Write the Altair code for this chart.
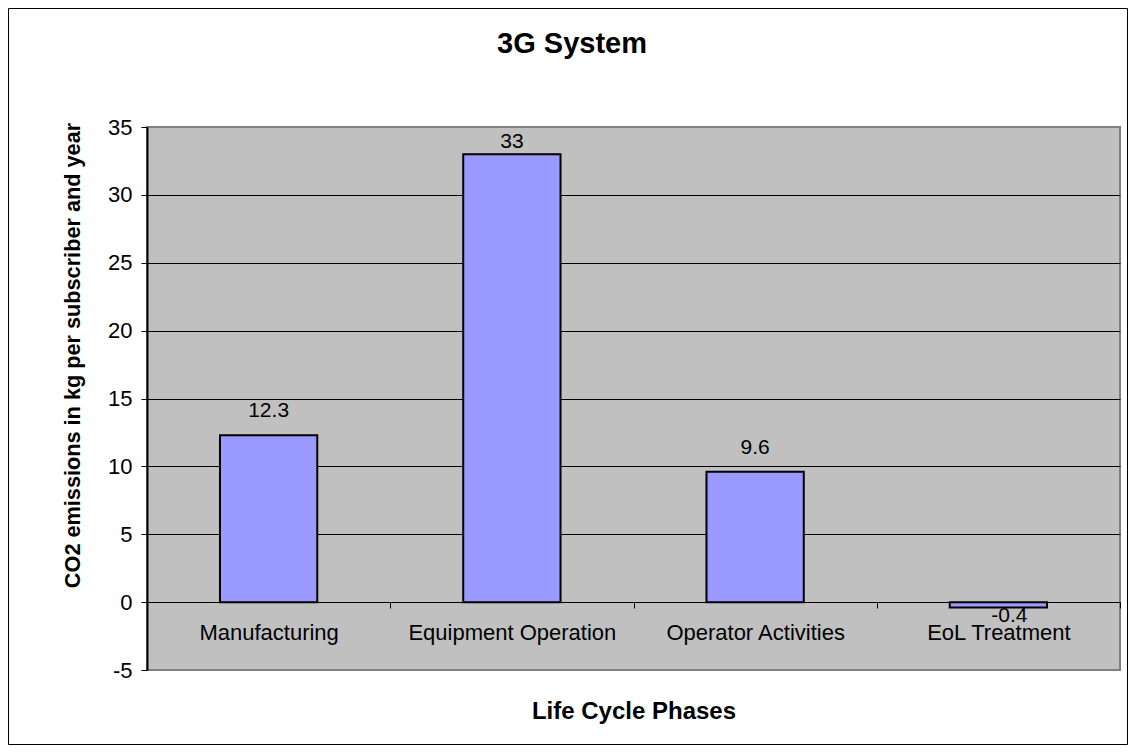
import altair as alt
import pandas as pd

categories = ["Manufacturing", "Equipment Operation", "Operator Activities", "EoL Treatment"]
values = [12.3, 33, 9.6, -0.4]
value_labels = ["12.3", "33", "9.6", "-0.4"]
y_ticks = [-5, 0, 5, 10, 15, 20, 25, 30, 35]

chart_title = "3G System"
x_title = "Life Cycle Phases"
y_title = "CO2 emissions in kg per subscriber and year"

FONT = "Liberation Sans"

df = pd.DataFrame({"cat": categories, "v": values, "lab": value_labels})

x_enc = alt.X(
    "cat:N",
    sort=categories,
    scale=alt.Scale(paddingInner=0, paddingOuter=0),
    axis=alt.Axis(
        title=x_title,
        labelAngle=0,
        offset=-68,
        tickBand="extent",
        tickSize=6,
        tickColor="black",
        domainColor="black",
        domainWidth=1,
        labelPadding=14,
        labelFontSize=22,
        labelColor="black",
        labelLimit=0,
        titleFontSize=24,
        titleFontWeight="bold",
        titleColor="black",
        titleBaseline="middle",
        titleY=109,
        grid=False,
    ),
)

y_scale = alt.Scale(domain=[-5, 35], nice=False, zero=False)

bars = alt.Chart(df).mark_bar(
    color="#9999FF", stroke="black", strokeWidth=2, width=alt.RelativeBandSize(0.4)
).encode(
    x=x_enc,
    y=alt.Y(
        "v:Q",
        scale=y_scale,
        axis=alt.Axis(
            values=y_ticks,
            labelExpr="'' + datum.value",
            title=y_title,
            titleFontSize=21.7,
            titleFontWeight="bold",
            titleColor="black",
            titleAngle=270,
            titleAlign="center",
            titleBaseline="middle",
            titleX=-75,
            titleY=228,
            labelFontSize=22,
            labelColor="black",
            labelPadding=9,
            tickSize=6,
            tickColor="black",
            domainColor="black",
            domainWidth=2,
            grid=True,
            gridColor={
                "condition": {"test": "datum.value === 35 || datum.value === -5", "value": "#808080"},
                "value": "black",
            },
            gridWidth=1,
        ),
    ),
)

label_base = alt.Chart(df).transform_calculate(
    ly="datum.v >= 0 ? min(datum.v + 1.33, 33.45) : datum.v - 1.1"
)
labels_pos = label_base.transform_filter("datum.v >= 0").mark_text(
    fontSize=21, color="black", baseline="alphabetic", align="center"
).encode(
    x=alt.X("cat:N", sort=categories),
    y=alt.Y("ly:Q", scale=y_scale),
    text="lab:N",
)
labels_neg = label_base.transform_filter("datum.v < 0").mark_text(
    fontSize=21, color="black", baseline="alphabetic", align="center", dx=11
).encode(
    x=alt.X("cat:N", sort=categories),
    y=alt.Y("ly:Q", scale=y_scale),
    text="lab:N",
)

title_mark = alt.Chart(pd.DataFrame({"t": [chart_title]})).mark_text(
    fontSize=29, fontWeight="bold", color="black", baseline="middle", align="center"
).encode(text="t:N", x=alt.value(425), y=alt.value(-83))

frame = alt.Chart(pd.DataFrame({"f": [0]})).mark_rect(
    fillOpacity=0, stroke="black", strokeWidth=1
).encode(
    x=alt.value(-138.5), x2=alt.value(980.5), y=alt.value(-118.5), y2=alt.value(617.5)
)

chart = alt.layer(bars, labels_pos, labels_neg, title_mark, frame).properties(
    width=973,
    height=543,
    autosize=alt.AutoSizeParams(type="none"),
    padding={"left": 139, "top": 119, "right": 8, "bottom": 75},
).configure(font=FONT, background="white").configure_view(
    fill="#C0C0C0", stroke="#808080", strokeWidth=2
)

chart.save("out.html", embed_options={"renderer": "svg", "actions": False})
